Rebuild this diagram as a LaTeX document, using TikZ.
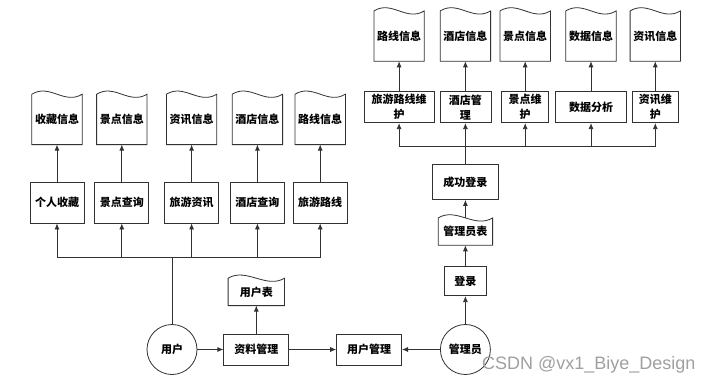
\documentclass[tikz,border=0pt]{standalone}
\usepackage{fontspec}
\newfontfamily\cjkfont{Noto Sans CJK SC}
\newfontfamily\markfont{Liberation Sans}
\usepackage{tikz}
\usetikzlibrary{arrows.meta, positioning}
\definecolor{flowline}{RGB}{50,50,50}
\definecolor{markgrey}{RGB}{160,160,160}
\tikzset{
  procbox/.style={rectangle, draw=flowline, line width=0.8pt, fill=white,
                  align=center, minimum width=#1, minimum height=31pt, inner sep=1pt,
                  font=\cjkfont\bfseries\fontsize{11}{15}\selectfont},
  procbox/.default=54pt,
  docbox/.style={rectangle, align=center, minimum width=#1, minimum height=50pt,
                 inner sep=1pt, font=\cjkfont\bfseries\fontsize{11}{15}\selectfont},
  docbox/.default=50pt,
  rolenode/.style={circle, draw=flowline, line width=0.8pt, minimum size=50pt,
                   inner sep=0pt, font=\cjkfont\bfseries\fontsize{11}{15}\selectfont},
  line/.style={draw=flowline, line width=0.8pt},
  arrow/.style={line, -{Latex[length=6pt, width=5pt]}},
}

\begin{document}
\begin{tikzpicture}[x=1pt, y=1pt]
  \path[fill=white, use as bounding box] (0,0) rectangle (713,-386);

  % roles and bottom row
  \node[rolenode] (user) at (172,-349.5) {用户};
  \node[procbox=65pt, right=26pt of user] (profile) {资料管理};
  \node[procbox=65pt, right=47pt of profile] (usermgmt) {用户管理};
  \node[rolenode, right=38pt of usermgmt] (admin) {管理员};
  \node[docbox=56pt, minimum height=27pt, above=28pt of profile] (usertab) {用户表};

  % admin login chain
  \node[procbox=42pt, minimum height=29pt, above=28pt of admin] (login) {登录};
  \node[docbox=54pt, minimum height=27pt, above=21pt of login] (admintab) {管理员表};
  \node[procbox=66pt, minimum height=35pt, above=18pt of admintab] (loginok) {成功登录};

  % user functions
  \node[procbox, minimum height=41pt] (favq) at (57,-202.5) {个人收藏};
  \node[procbox, minimum height=41pt, right=10pt of favq] (sightq) {景点查询};
  \node[procbox, minimum height=41pt, right=15pt of sightq] (newsq) {旅游资讯};
  \node[procbox, minimum height=41pt, right=11pt of newsq] (hotelq) {酒店查询};
  \node[procbox, minimum height=41pt, right=8pt of hotelq] (routeq) {旅游路线};

  \node[docbox, above=37pt of favq] (favinfo) {收藏信息};
  \node[docbox, above=37pt of sightq] (sightinfo) {景点信息};
  \node[docbox, above=37pt of newsq] (newsinfo) {资讯信息};
  \node[docbox, above=37pt of hotelq] (hotelinfo) {酒店信息};
  \node[docbox, above=37pt of routeq] (routeinfo) {路线信息};

  % admin functions
  \node[procbox=51pt, above=41pt of loginok] (hotelm) {酒店管\\理};
  \node[procbox=70pt, left=5pt of hotelm] (routem) {旅游路线维\\护};
  \node[procbox=47pt, right=10pt of hotelm] (sightm) {景点维\\护};
  \node[procbox=71pt, right=6pt of sightm] (dataa) {数据分析};
  \node[procbox=46pt, right=5pt of dataa] (newsm) {资讯维\\护};

  \node[docbox, above=30pt of routem] (routedb) {路线信息};
  \node[docbox, above=30pt of hotelm] (hoteldb) {酒店信息};
  \node[docbox, above=30pt of sightm] (sightdb) {景点信息};
  \node[docbox, above=30pt of dataa] (datadb) {数据信息};
  \node[docbox, above=30pt of newsm] (newsdb) {资讯信息};

  % document outlines with wavy top
  \foreach \d in {usertab, admintab, favinfo, sightinfo, newsinfo, hotelinfo, routeinfo,
                  routedb, hoteldb, sightdb, datadb, newsdb}
    \draw[line] (\d.north west) -- (\d.south west) -- (\d.south east) -- (\d.north east)
      .. controls +(-18pt,-11pt) and +(18pt,11pt) .. (\d.north west);

  % buses
  \coordinate[above=67pt of user] (lbus);
  \coordinate[above=18pt of loginok] (rbus);

  \foreach \p in {favq, sightq, newsq, hotelq, routeq}
    \draw[arrow] (user.north) -- (lbus) -| (\p.south);
  \foreach \p in {routem, hotelm, sightm, dataa, newsm}
    \draw[arrow] (loginok.north) -- (rbus) -| (\p.south);

  \draw[arrow] (favq) -- (favinfo);
  \draw[arrow] (sightq) -- (sightinfo);
  \draw[arrow] (newsq) -- (newsinfo);
  \draw[arrow] (hotelq) -- (hotelinfo);
  \draw[arrow] (routeq) -- (routeinfo);

  \draw[arrow] (routem) -- (routedb);
  \draw[arrow] (hotelm) -- (hoteldb);
  \draw[arrow] (sightm) -- (sightdb);
  \draw[arrow] (dataa) -- (datadb);
  \draw[arrow] (newsm) -- (newsdb);

  \draw[arrow] (user) -- (profile);
  \draw[arrow] (profile) -- (usermgmt);
  \draw[arrow] (admin) -- (usermgmt);
  \draw[arrow] (profile) -- (usertab);
  \draw[arrow] (admin) -- (login);
  \draw[arrow] (login) -- (admintab);
  \draw[arrow] (admintab) -- (loginok);

  \node[font=\markfont\fontsize{18}{18}\selectfont, text=markgrey, anchor=west, inner sep=0pt]
    (mark) at (482,-365) {CSDN @vx1\_Biye\_Design};
\end{tikzpicture}
\end{document}
